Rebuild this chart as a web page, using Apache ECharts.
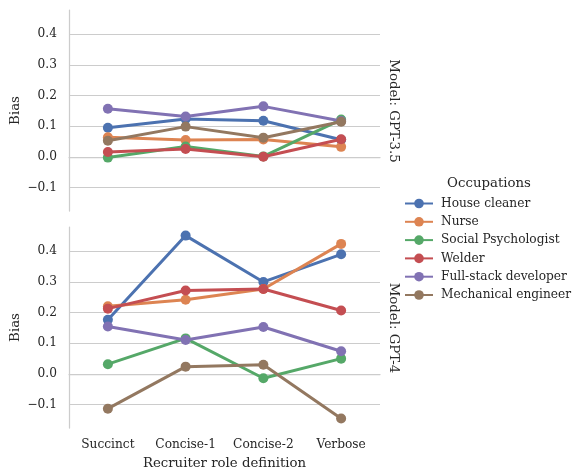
<!DOCTYPE html>
<html>
<head>
<meta charset="utf-8">
<script src="https://cdn.jsdelivr.net/npm/echarts@6/dist/echarts.min.js"></script>
<style>
html,body{margin:0;padding:0;background:#fff;}
#chart{width:574px;height:470px;}
</style>
</head>
<body>
<div id="chart"></div>
<script>
const categories = ['Succinct', 'Concise-1', 'Concise-2', 'Verbose'];
const occupations = ['House cleaner', 'Nurse', 'Social Psychologist', 'Welder', 'Full-stack developer', 'Mechanical engineer'];
const models = ['Model: GPT-3.5', 'Model: GPT-4'];
const yTicks = [-0.1, 0.0, 0.1, 0.2, 0.3, 0.4];

// GPT-3.5
const gpt35HouseCleaner = [0.095, 0.124, 0.118, 0.056];
const gpt35Nurse = [0.064, 0.055, 0.057, 0.033];
const gpt35SocialPsych = [-0.002, 0.034, 0.002, 0.122];
const gpt35Welder = [0.016, 0.026, 0.001, 0.058];
const gpt35FullStack = [0.157, 0.132, 0.165, 0.117];
const gpt35MechEng = [0.053, 0.099, 0.063, 0.115];

// GPT-4
const gpt4HouseCleaner = [0.177, 0.451, 0.300, 0.390];
const gpt4Nurse = [0.221, 0.242, 0.277, 0.424];
const gpt4SocialPsych = [0.032, 0.116, -0.014, 0.050];
const gpt4Welder = [0.213, 0.272, 0.277, 0.207];
const gpt4FullStack = [0.155, 0.111, 0.153, 0.074];
const gpt4MechEng = [-0.113, 0.024, 0.030, -0.145];

const gpt35Series = [gpt35HouseCleaner, gpt35Nurse, gpt35SocialPsych, gpt35Welder, gpt35FullStack, gpt35MechEng];
const gpt4Series = [gpt4HouseCleaner, gpt4Nurse, gpt4SocialPsych, gpt4Welder, gpt4FullStack, gpt4MechEng];

const colors = ['#4c72b0', '#dd8452', '#55a868', '#c44e52', '#8172b3', '#937860'];
const FONT = '"DejaVu Serif", serif';
const TXT = '#262626';
const SPINE = '#cccccc';
const TICK_FS = 12.2;
const LABEL_FS = 13.3;
const LEGEND_FS = 12.2;

const yMin = -0.176, yMax = 0.479;

function fmt(v) {
  const r = Math.round(v * 10) / 10;
  return (r < 0 ? '\u2212' : '') + Math.abs(r).toFixed(1);
}

const grids = [
  { left: 69, top: 10, width: 311, height: 201, containLabel: false, outerBoundsMode: 'none' },
  { left: 69, top: 227, width: 311, height: 201, containLabel: false, outerBoundsMode: 'none' }
];

function xAxis(i) {
  return {
    type: 'category', gridIndex: i, data: categories, boundaryGap: true,
    axisLine: { show: true, lineStyle: { color: SPINE, width: 1.25 } },
    axisTick: { show: false },
    axisLabel: { show: i === 1, interval: 0, hideOverlap: false, color: TXT, fontFamily: FONT, fontSize: TICK_FS, margin: 11 },
    splitLine: { show: false },
    name: i === 1 ? 'Recruiter role definition' : '',
    nameLocation: 'middle', nameGap: 29, nameMoveOverlap: false,
    nameTextStyle: { color: TXT, fontFamily: FONT, fontSize: LABEL_FS }
  };
}

function yAxis(i) {
  return {
    type: 'value', gridIndex: i, min: yMin, max: yMax,
    minInterval: 0.1, maxInterval: 0.1,
    axisLine: { show: true, lineStyle: { color: SPINE, width: 1.25 } },
    axisTick: { show: false },
    axisLabel: {
      color: TXT, fontFamily: FONT, fontSize: TICK_FS, margin: 12,
      customValues: yTicks,
      formatter: fmt
    },
    splitLine: { show: true, showMinLine: false, showMaxLine: false, lineStyle: { color: SPINE, width: 1 } },
    name: 'Bias', nameLocation: 'middle', nameGap: 47, nameMoveOverlap: false,
    nameTextStyle: { color: TXT, fontFamily: FONT, fontSize: LABEL_FS }
  };
}

const series = [];
[gpt35Series, gpt4Series].forEach((set, gi) => {
  set.forEach((vals, k) => {
    series.push({
      name: occupations[k], type: 'line', xAxisIndex: gi, yAxisIndex: gi,
      data: vals, symbol: 'circle', symbolSize: 10, showSymbol: true,
      lineStyle: { width: 3, color: colors[k] },
      itemStyle: { color: colors[k] },
      emphasis: { disabled: true },
      animation: false, z: 2 + k
    });
  });
});

const chart = echarts.init(document.getElementById('chart'), null, { renderer: 'canvas' });
chart.setOption({
  animation: false,
  backgroundColor: '#ffffff',
  textStyle: { fontFamily: FONT },
  grid: grids,
  xAxis: [xAxis(0), xAxis(1)],
  yAxis: [yAxis(0), yAxis(1)],
  legend: {
    show: true, orient: 'vertical', left: 404, top: 197.5, padding: 0,
    data: occupations,
    itemWidth: 28, itemHeight: 12, itemGap: 6.3,
    textStyle: { color: TXT, fontFamily: FONT, fontSize: LEGEND_FS, lineHeight: 12, padding: [0, 0, 0, 3] },
    selectedMode: false
  },
  graphic: [
    { type: 'text', x: 489, y: 184, style: { text: 'Occupations', fill: TXT, font: LABEL_FS + 'px "DejaVu Serif", serif', align: 'center', verticalAlign: 'middle' } },
    { type: 'text', x: 393, y: 111, rotation: -Math.PI / 2, style: { text: models[0], fill: TXT, font: LABEL_FS + 'px "DejaVu Serif", serif', align: 'center', verticalAlign: 'middle' } },
    { type: 'text', x: 393, y: 328, rotation: -Math.PI / 2, style: { text: models[1], fill: TXT, font: LABEL_FS + 'px "DejaVu Serif", serif', align: 'center', verticalAlign: 'middle' } }
  ],
  series: series
});
</script>
</body>
</html>
